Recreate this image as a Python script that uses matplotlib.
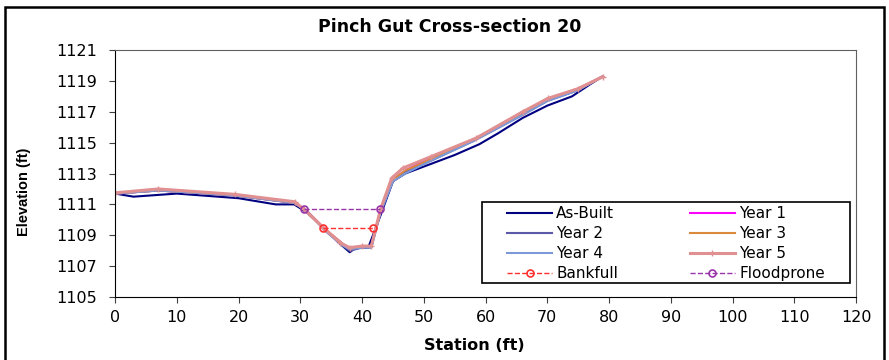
import matplotlib.pyplot as plt
from matplotlib.patches import Rectangle

plt.rcParams['font.family'] = ['DejaVu Sans']

# surveyed cross-section data (station ft, elevation ft)
asbuilt_x = [0, 3, 10, 20, 26, 29, 31, 34, 36, 38, 39, 41, 43, 45, 47, 51, 55, 59, 62, 66, 70, 74, 77, 79]
asbuilt_y = [1111.7, 1111.5, 1111.7, 1111.4, 1111.0, 1111.0, 1110.5, 1109.4, 1108.6, 1107.9, 1108.2, 1108.2,
             1110.3, 1112.5, 1113.0, 1113.6, 1114.2, 1114.9, 1115.6, 1116.6, 1117.4, 1118.0, 1118.8, 1119.3]

year1_x = [0, 7, 19, 29, 31, 34, 37, 38, 40, 41.5, 43, 45, 47, 51, 58, 66, 70, 75, 79]
year1_y = [1111.7, 1111.9, 1111.6, 1111.1, 1110.6, 1109.4, 1108.4, 1108.1, 1108.2, 1108.3, 1110.6, 1112.6,
           1113.2, 1114.0, 1115.2, 1116.9, 1117.8, 1118.5, 1119.3]

year2_x = [0, 7, 19, 29, 31, 34, 37, 38, 40, 41.5, 43, 45, 47, 51, 58, 66, 70, 75, 79]
year2_y = [1111.7, 1111.9, 1111.6, 1111.1, 1110.6, 1109.3, 1108.3, 1108.0, 1108.2, 1108.2, 1110.5, 1112.5,
           1113.1, 1113.8, 1115.1, 1116.8, 1117.7, 1118.4, 1119.3]

year3_x = [0, 7, 19, 29, 31, 34, 37, 38, 40, 41.5, 43, 45, 47, 51, 58, 66, 70, 75, 79]
year3_y = [1111.7, 1111.9, 1111.6, 1111.1, 1110.6, 1109.4, 1108.4, 1108.1, 1108.3, 1108.3, 1110.6, 1112.6,
           1113.2, 1113.9, 1115.2, 1116.9, 1117.8, 1118.5, 1119.3]

year4_x = [0, 7, 19, 29, 31, 34, 37, 38, 40, 41.5, 43, 45, 47, 51, 58, 66, 70, 75, 79]
year4_y = [1111.7, 1111.9, 1111.6, 1111.1, 1110.6, 1109.3, 1108.3, 1108.1, 1108.2, 1108.2, 1110.5, 1112.5,
           1113.0, 1113.8, 1115.1, 1116.8, 1117.7, 1118.4, 1119.3]

year5_x = [0, 7, 19.4, 29.1, 30.6, 33.7, 36.5, 38, 40, 41.5, 43, 44.8, 46.6, 51.2, 58.5, 66, 70.1, 75, 79]
year5_y = [1111.75, 1112.0, 1111.65, 1111.17, 1110.68, 1109.5, 1108.5, 1108.2, 1108.3, 1108.3, 1110.7,
           1112.7, 1113.35, 1114.1, 1115.3, 1117.0, 1117.87, 1118.5, 1119.27]

bankfull_x = [33.7, 41.8]
bankfull_y = [1109.5, 1109.5]
flood_x = [30.6, 42.9]
flood_y = [1110.68, 1110.68]

x_ticks = list(range(0, 121, 10))
y_ticks = list(range(1105, 1122, 2))

fig = plt.figure(figsize=(8.89, 3.6), dpi=100)
ax = fig.add_axes([0.1294, 0.175, 0.8336, 0.686])

# outer chart border (bottom edge runs off the image like the original)
fig.patches.append(Rectangle((0.0056, -0.05), 0.989, 1.03, transform=fig.transFigure,
                             fill=False, edgecolor='black', linewidth=1.8))

h_ab, = ax.plot(asbuilt_x, asbuilt_y, color='#000080', lw=1.5, label='As-Built')
h_y1, = ax.plot(year1_x, year1_y, color='#FF00FF', lw=1.5, label='Year 1')
h_y2, = ax.plot(year2_x, year2_y, color='#5A5AA8', lw=1.5, label='Year 2')
h_y3, = ax.plot(year3_x, year3_y, color='#D98A3A', lw=1.5, label='Year 3')
h_y4, = ax.plot(year4_x, year4_y, color='#7C9AD8', lw=1.5, label='Year 4')
h_y5, = ax.plot(year5_x, year5_y, color='#E09090', lw=2.2, marker='+', ms=4, label='Year 5')
h_bf, = ax.plot(bankfull_x, bankfull_y, color='#FF3030', lw=1, ls='--', marker='o', ms=5,
                mfc='none', mew=1.2, label='Bankfull')
h_fp, = ax.plot(flood_x, flood_y, color='#9933AA', lw=1, ls='--', marker='o', ms=5,
                mfc='none', mew=1.2, label='Floodprone')

ax.set_xlim(0, 120)
ax.set_ylim(1105, 1121)
ax.set_xticks(x_ticks)
ax.set_yticks(y_ticks)
ax.tick_params(labelsize=11.5, direction='out', length=4, color='#404040')
ax.tick_params(axis='y', pad=9)
ax.tick_params(axis='x', pad=5)
for s in ax.spines.values():
    s.set_color('#606060')
ax.spines['left'].set_color('black')
ax.spines['bottom'].set_color('black')

ax.text(0.4845, -0.198, 'Station (ft)', transform=ax.transAxes, ha='center', va='center',
        fontsize=11.5, fontweight='bold')
ax.text(-0.123, 0.425, 'Elevation (ft)', transform=ax.transAxes, ha='center', va='center',
        rotation=90, fontsize=10.5, fontweight='bold', family='Liberation Sans')
fig.text(449.5 / 889, 0.924, 'Pinch Gut Cross-section 20', ha='center', va='center',
         fontsize=12.5, fontweight='bold')

# legend frame drawn by hand, legend entries placed inside it
ax.add_patch(Rectangle((0.4953, 0.0567), 0.4966, 0.328, transform=ax.transAxes,
                       facecolor='white', edgecolor='black', linewidth=1.2, zorder=5))
handles = [h_ab, h_y2, h_y4, h_bf, h_y1, h_y3, h_y5, h_fp]
leg = ax.legend(handles=handles, ncol=2, loc='upper left', bbox_to_anchor=(0.529, 0.368),
                fontsize=11, frameon=False, borderaxespad=0, borderpad=0,
                handlelength=2.95, handletextpad=0.27, columnspacing=4.7, labelspacing=0.33)
leg.set_zorder(6)

fig.savefig('out.png', dpi=100)
plt.close()
